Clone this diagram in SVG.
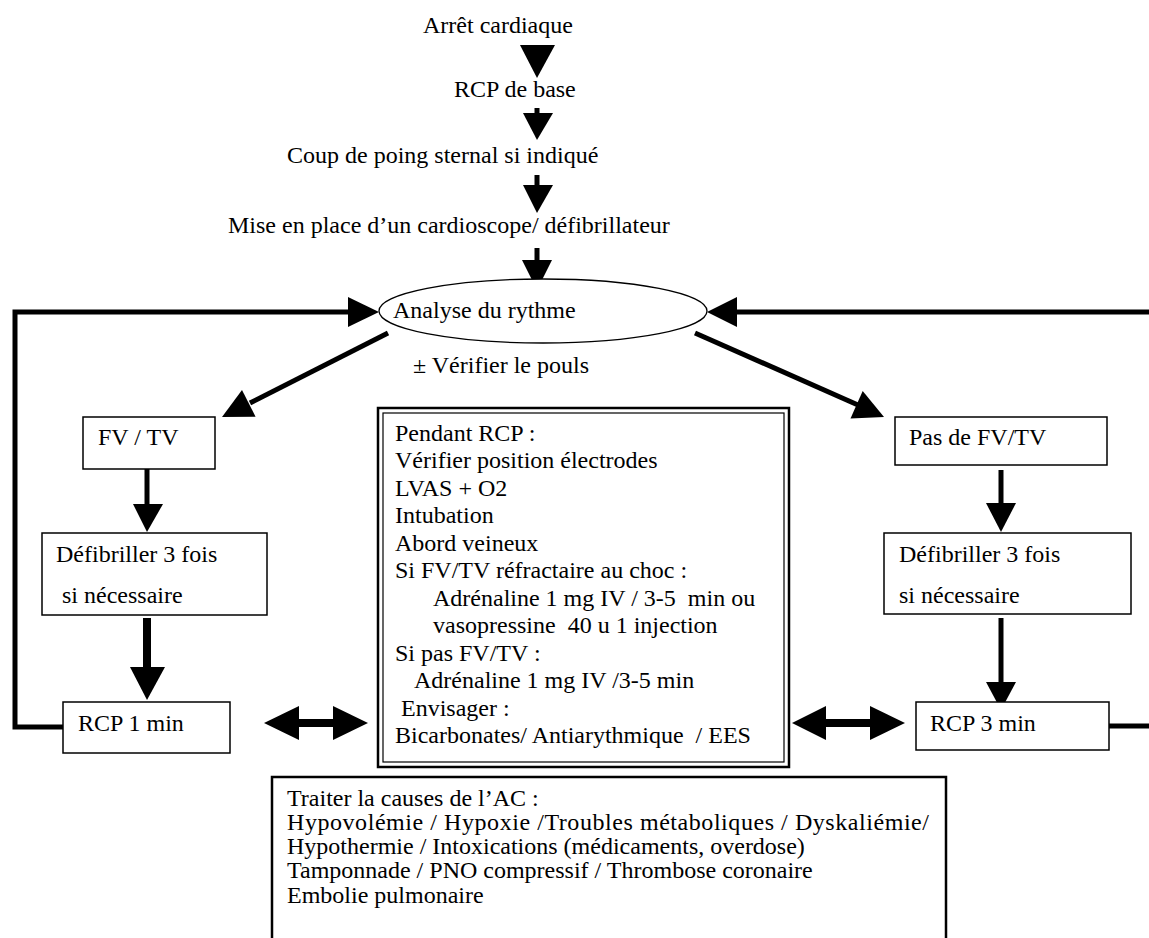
<svg xmlns="http://www.w3.org/2000/svg" width="1149" height="938" viewBox="0 0 1149 938">
<style>
text{font-family:"Liberation Serif","Times New Roman",serif;font-size:24px;fill:#000}
.box{fill:#fff;stroke:#000;stroke-width:1.5}
.ln{fill:none;stroke:#000;stroke-width:5}
.lnb{fill:none;stroke:#000;stroke-width:8}
.ah{fill:#000;stroke:none}
</style>
<rect width="1149" height="938" fill="#fff"/>

<g id="connectors">
  <!-- top chain -->
  <polygon class="ah" points="520,45 555,45 537,78"/>
  <line class="ln" x1="537" y1="108" x2="537" y2="114"/>
  <polygon class="ah" points="523,113 553,113 537,140"/>
  <line class="ln" x1="537" y1="175" x2="537" y2="186"/>
  <polygon class="ah" points="523,185 553,185 537,213"/>
  <line class="ln" x1="537" y1="248" x2="537" y2="261"/>
  <polygon class="ah" points="522,260 552,260 537,290"/>
  <!-- left loop -->
  <polyline class="ln" points="63,727 15,727 15,312 349,312"/>
  <polygon class="ah" points="348,297 348,327 379,312"/>
  <!-- right loop -->
  <line class="ln" x1="1149" y1="312" x2="736" y2="312"/>
  <polygon class="ah" points="737,297 737,327 707,312"/>
  <line class="ln" x1="1109" y1="726" x2="1149" y2="726"/>
  <!-- diagonals -->
  <line class="ln" x1="388" y1="333" x2="250" y2="403"/>
  <polygon class="ah" points="222,417 255.6,416.8 242,390"/>
  <line class="ln" x1="695" y1="333" x2="858" y2="405"/>
  <polygon class="ah" points="884,417 850.5,418.5 862.7,391.1"/>
  <!-- left column -->
  <line class="ln" x1="147" y1="459" x2="147" y2="505"/>
  <polygon class="ah" points="133,504 163,504 147,532"/>
  <line class="lnb" x1="147" y1="618" x2="147" y2="668"/>
  <polygon class="ah" points="130,667 165,667 147,700"/>
  <!-- right column -->
  <line class="ln" x1="1001" y1="470" x2="1001" y2="504"/>
  <polygon class="ah" points="986,503 1016,503 1001,532"/>
  <line class="ln" x1="1001" y1="618" x2="1001" y2="683"/>
  <polygon class="ah" points="986,682 1016,682 1001,710"/>
  <!-- double arrows -->
  <line class="lnb" x1="298" y1="723" x2="334" y2="723"/>
  <polygon class="ah" points="264,723 299,706 299,740"/>
  <polygon class="ah" points="368,723 333,706 333,740"/>
  <line class="lnb" x1="825" y1="723" x2="871" y2="723"/>
  <polygon class="ah" points="792,723 826,706 826,740"/>
  <polygon class="ah" points="905,723 870,706 870,740"/>
</g>

<g id="n-arret"><text x="423" y="33">Arrêt cardiaque</text></g>
<g id="n-rcpbase"><text x="454" y="97">RCP de base</text></g>
<g id="n-coup"><text x="287" y="163">Coup de poing sternal si indiqué</text></g>
<g id="n-mise"><text x="228" y="233">Mise en place d’un cardioscope/ défibrillateur</text></g>

<g id="n-analyse">
  <ellipse cx="543" cy="311" rx="164" ry="32" fill="#fff" stroke="#000" stroke-width="1.3"/>
  <text x="393" y="318">Analyse du rythme</text>
</g>
<g id="n-pouls"><text x="413" y="373">± Vérifier le pouls</text></g>

<g id="n-fvtv">
  <rect class="box" x="83" y="417" width="132" height="52"/>
  <text x="98" y="445">FV / TV</text>
</g>
<g id="n-defib-l">
  <rect class="box" x="42" y="533" width="225" height="82"/>
  <text x="56" y="562">Défibriller 3 fois</text>
  <text x="62" y="603">si nécessaire</text>
</g>
<g id="n-rcp1">
  <rect class="box" x="63" y="702" width="167" height="51"/>
  <text x="78" y="731">RCP 1 min</text>
</g>

<g id="n-pasfv">
  <rect class="box" x="895" y="417" width="212" height="48"/>
  <text x="909" y="445">Pas de FV/TV</text>
</g>
<g id="n-defib-r">
  <rect class="box" x="884" y="533" width="247" height="81"/>
  <text x="899" y="562">Défibriller 3 fois</text>
  <text x="899" y="603">si nécessaire</text>
</g>
<g id="n-rcp3">
  <rect class="box" x="916" y="702" width="193" height="48"/>
  <text x="930" y="731">RCP 3 min</text>
</g>

<g id="n-pendant">
  <rect x="378" y="408" width="411" height="359" fill="#fff" stroke="#000" stroke-width="2.5"/>
  <rect x="383" y="413" width="401" height="349" fill="none" stroke="#000" stroke-width="1.2"/>
  <text x="395" y="440.5">Pendant RCP :</text>
  <text x="395" y="468">Vérifier position électrodes</text>
  <text x="395" y="495.5">LVAS + O2</text>
  <text x="395" y="523">Intubation</text>
  <text x="395" y="550.5">Abord veineux</text>
  <text x="395" y="578">Si FV/TV réfractaire au choc :</text>
  <text x="433" y="605.5" xml:space="preserve">Adrénaline 1 mg IV / 3-5  min ou</text>
  <text x="433" y="633" xml:space="preserve">vasopressine  40 u 1 injection</text>
  <text x="395" y="660.5">Si pas FV/TV :</text>
  <text x="414" y="688">Adrénaline 1 mg IV /3-5 min</text>
  <text x="401" y="715.5">Envisager :</text>
  <text x="395" y="743" xml:space="preserve">Bicarbonates/ Antiarythmique  / EES</text>
</g>

<g id="n-causes">
  <rect x="272" y="777" width="674" height="175" fill="#fff" stroke="#000" stroke-width="2.5"/>
  <text x="287" y="806">Traiter la causes de l’AC :</text>
  <text x="287" y="830" textLength="642" lengthAdjust="spacing">Hypovolémie / Hypoxie /Troubles métaboliques / Dyskaliémie/</text>
  <text x="287" y="854">Hypothermie / Intoxications (médicaments, overdose)</text>
  <text x="287" y="878">Tamponnade / PNO compressif / Thrombose coronaire</text>
  <text x="287" y="903">Embolie pulmonaire</text>
</g>
</svg>
